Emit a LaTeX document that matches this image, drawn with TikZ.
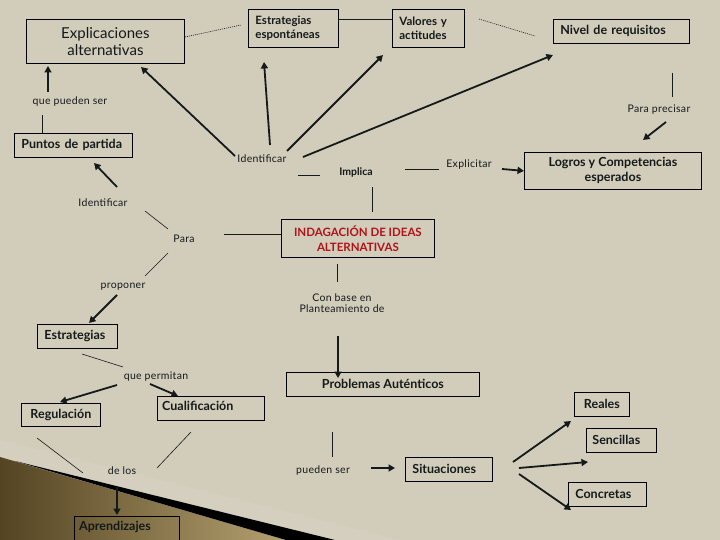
\documentclass[tikz,border=0pt]{standalone}
\usepackage{fontspec}
\setmainfont{Lato}
\usetikzlibrary{arrows.meta}
\definecolor{bg}{RGB}{210,204,187}
\definecolor{ink}{RGB}{20,26,26}
\definecolor{redtx}{RGB}{176,18,24}
\definecolor{brownA}{RGB}{84,68,34}
\definecolor{brownB}{RGB}{180,160,112}
\begin{document}
\begin{tikzpicture}[x=1pt,y=-1pt,
  box/.style={draw=black,line width=0.8pt,inner sep=0pt,anchor=north west,
    font=\bfseries\fontsize{12.5}{14}\selectfont,text=ink},
  lbox/.style={box,align=left},
  lbl/.style={font=\fontsize{10.5}{12}\selectfont\addfontfeature{LetterSpace=3},text=ink,inner sep=1pt},
  arr/.style={line width=1.8pt,draw=ink,-{Triangle[length=6.5pt,width=7pt]}},
  thinl/.style={line width=0.6pt,draw=ink},
  dotl/.style={line width=0.6pt,draw=ink,dash pattern=on 1pt off 1pt}]
\useasboundingbox (0,0) rectangle (720,540);
% background
\fill[bg] (0,0) rectangle (720,540);
\fill[white,opacity=0.07] (0,440) -- (400,540) -- (335,540) -- (15,461) -- (0,457) -- cycle;
\shade[left color=brownA,right color=brownB] (0,457) -- (286,540) -- (0,540) -- cycle;
\fill[black] (15,461) -- (335,540) -- (286,540) -- cycle;

% boxes
\node[box,minimum width=158,minimum height=44,align=center,
  font=\fontsize{15}{16.5}\selectfont] (expl) at (26,19) {Explicaciones\\alternativas};
\node[lbox,minimum width=90,minimum height=38,text width=76,inner xsep=7,
  font=\bfseries\fontsize{11.5}{14}\selectfont] (esp) at (248,9) {Estrategias\\espontáneas};
\node[lbox,minimum width=72,minimum height=38,text width=58,inner xsep=7,
  font=\bfseries\fontsize{11.5}{14}\selectfont] (val) at (392,9) {Valores y\\actitudes};
\node[lbox,minimum width=136,minimum height=24,text width=122,inner xsep=7] (niv) at (553,19) {Nivel de requisitos};
\node[lbox,minimum width=118,minimum height=24,text width=104,inner xsep=7] (pun) at (14,133) {Puntos de partida};
\node[box,minimum width=177,minimum height=37,align=center,
  font=\bfseries\fontsize{12.5}{15}\selectfont] (log) at (524,152) {Logros y Competencias\\esperados};
\node[box,minimum width=153,minimum height=38,align=center,text=redtx,
  font=\bfseries\fontsize{11.5}{15}\selectfont] (ind) at (281,219) {INDAGACIÓN DE IDEAS\\ALTERNATIVAS};
\node[lbox,minimum width=80,minimum height=24,text width=66,inner xsep=7] (estr) at (37,324) {Estrategias};
\node[box,minimum width=193,minimum height=24] (prob) at (286,372) {Problemas Auténticos};
\node[box,minimum width=79,minimum height=23] (reg) at (21,403) {Regulación};
\node[box,minimum width=107,minimum height=24] (cual) at (157,396) {};
\node[anchor=west,inner sep=0pt,font=\bfseries\fontsize{12.5}{14}\selectfont,text=ink] (cualt) at (162,406) {Cualificación};
\node[box,minimum width=105,minimum height=30] (apr) at (74,516) {};
\node[anchor=west,inner sep=0pt,font=\bfseries\fontsize{12.5}{14}\selectfont,text=ink] (aprt) at (79,527) {Aprendizajes};
\node[lbox,minimum width=87,minimum height=24,text width=73,inner xsep=7] (sit) at (405,457) {Situaciones};
\node[box,minimum width=55,minimum height=24] (rea) at (574,392) {Reales};
\node[lbox,minimum width=70,minimum height=24,text width=58,inner xsep=6] (sen) at (586,428) {Sencillas};
\node[lbox,minimum width=78,minimum height=24,text width=64,inner xsep=7] (con) at (568,482) {Concretas};

% labels
\node[lbl] (qps) at (70,102) {que pueden ser};
\node[lbl] (idc) at (262,159) {Identificar};
\node[lbl] (pp) at (659,110) {Para precisar};
\node[lbl,font=\bfseries\fontsize{10.5}{12}\selectfont] (impl) at (356,172) {Implica};
\node[lbl] (expc) at (469,165) {Explicitar};
\node[lbl] (idl) at (103,203) {Identificar};
\node[lbl] (para) at (184,239) {Para};
\node[lbl] (prop) at (123,287) {proponer};
\node[lbl,align=center,font=\fontsize{10.5}{11.5}\selectfont\addfontfeature{LetterSpace=3}] (cb) at (342,303) {Con base en\\Planteamiento de};
\node[lbl] (qpm) at (156,377) {que permitan};
\node[lbl] (delos) at (122,471) {de los};
\node[lbl] (pser) at (323,471) {pueden ser};

% connector end points
\coordinate (c1) at (185,37);  \coordinate (c2) at (241,25);
\coordinate (c3) at (338,19);  \coordinate (c4) at (392,19);
\coordinate (c5) at (479,19);  \coordinate (c6) at (535,36);
\coordinate (c7) at (48,92);   \coordinate (c8) at (48,66);
\coordinate (c9) at (42,115);  \coordinate (c10) at (42,133);
\coordinate (i1) at (235,156); \coordinate (t1) at (141,67);
\coordinate (i2) at (270,145); \coordinate (t2) at (264,62);
\coordinate (i3) at (287,151); \coordinate (t3) at (383,55);
\coordinate (i4) at (303,157); \coordinate (t4) at (553,55);
\coordinate (p1) at (672,73);  \coordinate (p2) at (672,97);
\coordinate (p3) at (666,122); \coordinate (p4) at (643,140);
\coordinate (m1) at (298,175); \coordinate (m2) at (320,175);
\coordinate (m3) at (405,169); \coordinate (m4) at (439,169);
\coordinate (m5) at (502,169);
\coordinate (m6) at (372,187); \coordinate (m7) at (372,212);
\coordinate (l1) at (117,187); \coordinate (l2) at (94,163);
\coordinate (l3) at (145,211); \coordinate (l4) at (168,229);
\coordinate (l5) at (224,234); \coordinate (l5b) at (281,234);
\coordinate (l6) at (168,253); \coordinate (l7) at (145,276);
\coordinate (l8) at (117,295); \coordinate (l9) at (89,323);
\coordinate (s1) at (82,354);  \coordinate (s2) at (123,367);
\coordinate (s3) at (117,385); \coordinate (s4) at (60,402);
\coordinate (s5) at (150,384); \coordinate (s6) at (178,396);
\coordinate (b1) at (337,264); \coordinate (b2) at (337,282);
\coordinate (b3) at (338,336); \coordinate (b4) at (338,378);
\coordinate (d1) at (37,438);  \coordinate (d2) at (83,473);
\coordinate (d3) at (191,432); \coordinate (d4) at (157,468);
\coordinate (d5) at (117,487); \coordinate (d6) at (117,515);
\coordinate (q1) at (332,432); \coordinate (q2) at (332,457);
\coordinate (q3) at (371,468); \coordinate (q4) at (395,468);
\coordinate (r1) at (513,462); \coordinate (r2) at (571,421);
\coordinate (r3) at (519,468); \coordinate (r4) at (588,462);
\coordinate (r5) at (519,474); \coordinate (r6) at (571,510);

% connectors
\draw[dotl] (c1) -- (c2);
\draw[thinl] (c3) -- (c4);
\draw[dotl] (c5) -- (c6);
\draw[arr] (c7) -- (c8);
\draw[thinl] (c9) -- (c10);
\draw[arr] (i1) -- (t1);
\draw[arr] (i2) -- (t2);
\draw[arr] (i3) -- (t3);
\draw[arr] (i4) -- (t4);
\draw[thinl] (p1) -- (p2);
\draw[arr] (p3) -- (p4);
\draw[thinl] (m1) -- (m2);
\draw[thinl] (m3) -- (m4);
\draw[arr] (m5) -- (log.west);
\draw[thinl] (m6) -- (m7);
\draw[arr] (l1) -- (l2);
\draw[thinl] (l3) -- (l4);
\draw[thinl] (l5) -- (l5b);
\draw[thinl] (l6) -- (l7);
\draw[arr] (l8) -- (l9);
\draw[thinl] (s1) -- (s2);
\draw[arr] (s3) -- (s4);
\draw[arr] (s5) -- (s6);
\draw[thinl] (b1) -- (b2);
\draw[arr] (b3) -- (b4);
\draw[thinl] (d1) -- (d2);
\draw[thinl] (d3) -- (d4);
\draw[arr] (d5) -- (d6);
\draw[thinl] (q1) -- (q2);
\draw[arr] (q3) -- (q4);
\draw[arr] (r1) -- (r2);
\draw[arr] (r3) -- (r4);
\draw[arr] (r5) -- (r6);
\end{tikzpicture}
\end{document}
